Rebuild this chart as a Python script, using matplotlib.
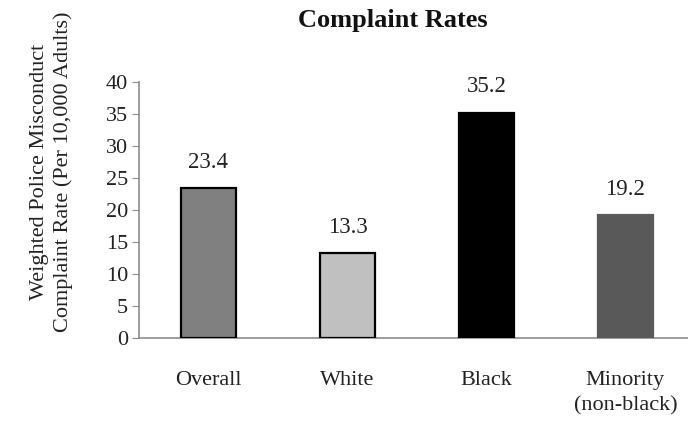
import matplotlib.pyplot as plt
import numpy as np

# Complaint rate per 10,000 adults by group
categories = ["Overall", "White", "Black", "Minority\n(non-black)"]
rates = [23.4, 13.3, 35.2, 19.2]
y_ticks = [0, 5, 10, 15, 20, 25, 30, 35, 40]

fill_colors = ["#808080", "#c0c0c0", "#000000", "#595959"]
edge_colors = ["#000000", "#000000", "#000000", "#595959"]

plt.rcParams['font.family'] = ['Liberation Serif', 'DejaVu Serif']

fig = plt.figure(figsize=(6.88, 4.23), dpi=100)
ax = fig.add_axes([0.202, 0.201, 0.808, 0.605])

x = np.arange(len(categories))
bars = ax.bar(x, rates, width=0.4, color=fill_colors, edgecolor=edge_colors,
              linewidth=1.6, zorder=3)

# value labels above each bar
for xi, val in zip(x, rates):
    ax.annotate(f"{val:.1f}", (xi, val), xytext=(0, 11), textcoords="offset points",
                ha="center", va="bottom", fontsize=16.5, color="#222222")

ax.set_xlim(-0.5, 3.5)
ax.set_ylim(0, 40)
ax.set_yticks(y_ticks)
ax.set_xticks(x)
ax.set_xticklabels(categories, fontsize=16, color="#222222", linespacing=1.45)
ax.tick_params(axis='x', length=0, pad=24)
ax.tick_params(axis='y', labelsize=16, labelcolor="#222222", length=5,
               color="#8c8c8c", pad=3)

for side in ["top", "right"]:
    ax.spines[side].set_visible(False)
for side in ["left", "bottom"]:
    ax.spines[side].set_color("#8c8c8c")
    ax.spines[side].set_linewidth(1.2)

fig.text(0.075, 0.593, "Weighted Police Misconduct\nComplaint Rate (Per 10,000 Adults)",
         rotation=90, ha="center", va="center", fontsize=16, color="#222222",
         linespacing=1.3)
fig.text(0.571, 0.952, "Complaint Rates", ha="center", va="center",
         fontsize=19, fontweight="bold", color="#111111")

fig.savefig("out.png", dpi=100)
